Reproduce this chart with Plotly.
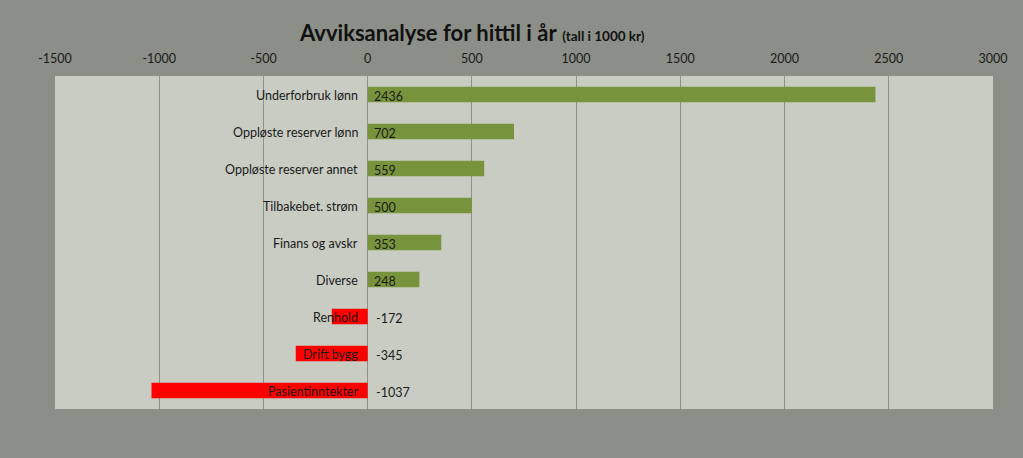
import plotly.graph_objects as go

categories = ["Underforbruk lønn", "Oppløste reserver lønn", "Oppløste reserver annet",
              "Tilbakebet. strøm", "Finans og avskr", "Diverse", "Renhold", "Drift bygg",
              "Pasientinntekter"]
values = [2436, 702, 559, 500, 353, 248, -172, -345, -1037]
x_ticks = [-1500, -1000, -500, 0, 500, 1000, 1500, 2000, 2500, 3000]

colors = ["#77933C" if v >= 0 else "#FF0000" for v in values]

fig = go.Figure()
fig.add_trace(go.Bar(
    y=categories, x=values, orientation="h",
    marker=dict(color=colors, line=dict(width=0)),
    width=0.42, hoverinfo="x+y",
))

font_family = "Lato, Open Sans, sans-serif"
ann = []
for c, v in zip(categories, values):
    ann.append(dict(x=0, y=c, xref="x", yref="y", text=c, showarrow=False,
                    xanchor="right", xshift=-8, yshift=-1,
                    font=dict(family=font_family, size=12.5, color="#1a1a1a")))
    ann.append(dict(x=0, y=c, xref="x", yref="y", text=str(v), showarrow=False,
                    xanchor="left", xshift=(4 if v >= 0 else 6), yshift=-2,
                    font=dict(family=font_family, size=12.5, color="#1a1a1a")))

ann.append(dict(xref="paper", yref="paper", x=0.445, y=1.0, yshift=44,
                text="<b>Avviksanalyse for hittil i år</b> <b><span style='font-size:13.5px'>(tall i 1000 kr)</span></b>",
                showarrow=False, xanchor="center", yanchor="middle",
                font=dict(family=font_family, size=22, color="#111111")))

fig.update_layout(
    width=1023, height=458,
    paper_bgcolor="#8C8F87",
    plot_bgcolor="#C8CCC3",
    margin=dict(l=55, r=30, t=76, b=49),
    showlegend=False,
    annotations=ann,
    xaxis=dict(side="top", range=[-1500, 3000], tickvals=x_ticks,
               ticktext=[str(t) for t in x_ticks],
               showgrid=True, gridcolor="#8E918C", gridwidth=1,
               zeroline=True, zerolinecolor="#8E918C", zerolinewidth=1,
               tickfont=dict(family=font_family, size=12.5, color="#1a1a1a"),
               ticks="", ticklabelstandoff=10, fixedrange=True, showline=False),
    yaxis=dict(categoryorder="array", categoryarray=categories[::-1],
               showticklabels=False, showgrid=False, zeroline=False,
               ticks="", fixedrange=True),
)

fig.write_html("out.html", config={"displayModeBar": False},
               post_script="document.body.style.margin='0';document.body.style.overflow='hidden';")
